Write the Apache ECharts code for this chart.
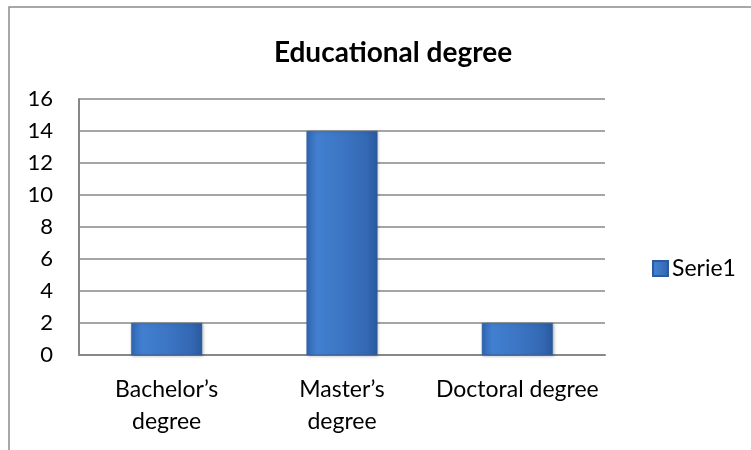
<!DOCTYPE html>
<html>
<head>
<meta charset="utf-8">
<script src="https://cdn.jsdelivr.net/npm/echarts@6/dist/echarts.min.js"></script>
<style>html,body{margin:0;padding:0;background:#fff;}#c{width:751px;height:450px;}</style>
</head>
<body>
<div id="c"></div>
<script>
var categories = ["Bachelor’s degree", "Master’s degree", "Doctoral degree"];
var tickLabels = ["Bachelor’s\ndegree", "Master’s\ndegree", "Doctoral degree"];
var serie1 = [2, 14, 2];
var seriesName = "Serie1";
var titleText = "Educational degree";

var chart = echarts.init(document.getElementById('c'), null, {renderer: 'canvas'});
var font = 'Lato, "Open Sans", sans-serif';
chart.setOption({
  animation: false,
  backgroundColor: '#fff',
  title: {
    text: titleText,
    left: 388, top: 34, textAlign: 'center',
    textStyle: {fontFamily: font, fontSize: 28, fontWeight: 'bold', color: '#000'}
  },
  legend: {
    data: [seriesName],
    left: 647, top: 252,
    itemWidth: 15, itemHeight: 15, itemGap: 4,
    icon: 'rect',
    textStyle: {fontFamily: font, fontSize: 23, color: '#000', padding: [0,0,0,-1]}
  },
  grid: {left: 79, right: 146, top: 99, bottom: 95, containLabel: false},
  xAxis: {
    type: 'category',
    data: categories,
    axisLine: {lineStyle: {color: '#878787', width: 2}},
    axisTick: {show: false},
    axisLabel: {
      fontFamily: font, fontSize: 23, color: '#000', margin: 19, lineHeight: 32,
      interval: 0,
      formatter: function (v, i) { return tickLabels[i]; }
    }
  },
  yAxis: {
    type: 'value', min: 0, max: 16, interval: 2,
    axisLine: {show: true, lineStyle: {color: '#878787', width: 2}},
    axisTick: {show: false},
    splitLine: {lineStyle: {color: '#878787', width: 1.5}},
    axisLabel: {fontFamily: font, fontSize: 22, color: '#000', margin: 26}
  },
  graphic: [{
    type: 'rect', silent: true, z: -1,
    shape: {x: 9, y: 7, width: 800, height: 500},
    style: {fill: 'none', stroke: '#8c8c8c', lineWidth: 1.5}
  }],
  series: [{
    name: seriesName,
    type: 'bar',
    data: serie1,
    barWidth: 71,
    itemStyle: {
      color: {
        type: 'linear', x: 0, y: 0, x2: 1, y2: 0,
        colorStops: [
          {offset: 0, color: '#3066b4'},
          {offset: 0.15, color: '#427fd0'},
          {offset: 0.5, color: '#3c76c4'},
          {offset: 0.85, color: '#3468b3'},
          {offset: 1, color: '#2a5a9e'}
        ]
      },
      borderColor: '#2c5c9f', borderWidth: 0.5,
      shadowColor: 'rgba(0,0,0,0.25)', shadowBlur: 3, shadowOffsetX: 1, shadowOffsetY: 1
    }
  }]
});
</script>
</body>
</html>
